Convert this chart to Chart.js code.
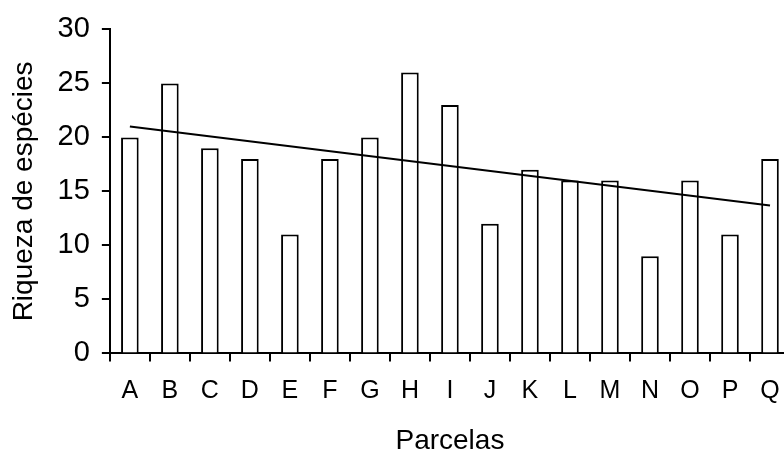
<!DOCTYPE html>
<html>
<head>
<meta charset="utf-8">
<script src="https://cdn.jsdelivr.net/npm/chart.js@4"></script>
<style>
  html, body { margin: 0; padding: 0; background: #fff; overflow: hidden; }
  #wrap { width: 784px; height: 452px; overflow: hidden; }
  #chart { display: block; }
</style>
</head>
<body>
<div id="wrap"><canvas id="chart" width="800" height="452"></canvas></div>
<script>
// Parcelas e riqueza de espécies
const parcelas = ['A', 'B', 'C', 'D', 'E', 'F', 'G', 'H', 'I', 'J', 'K', 'L', 'M', 'N', 'O', 'P', 'Q'];
const riqueza = [20, 25, 19, 18, 11, 18, 20, 26, 23, 12, 17, 16, 16, 9, 16, 11, 18];
const tendenciaInicio = 21.0;
const tendenciaFim = 13.7;
const yTicks = [0, 5, 10, 15, 20, 25, 30];

const tendencia = parcelas.map((p, i) => {
    if (i === 0) return tendenciaInicio;
    if (i === parcelas.length - 1) return tendenciaFim;
    return null;
});

const fonte = 'Liberation Sans, Arial, sans-serif';

const ctx = document.getElementById('chart').getContext('2d');
new Chart(ctx, {
    type: 'bar',
    data: {
        labels: parcelas,
        datasets: [
            {
                type: 'line',
                label: 'Tendência',
                data: tendencia,
                borderColor: '#000',
                borderWidth: 2,
                pointRadius: 0,
                spanGaps: true,
                fill: false,
                order: 1
            },
            {
                label: 'Riqueza de espécies',
                data: riqueza,
                backgroundColor: '#fff',
                borderColor: '#000',
                borderWidth: 2,
                categoryPercentage: 1,
                barPercentage: 0.44,
                order: 2
            }
        ]
    },
    options: {
        responsive: false,
        animation: false,
        layout: {
            padding: { left: 7, right: 10, top: 9, bottom: -6 }
        },
        plugins: {
            legend: { display: false },
            tooltip: { enabled: false }
        },
        scales: {
            x: {
                grid: {
                    offset: true,
                    drawOnChartArea: false,
                    drawTicks: true,
                    tickLength: 8,
                    color: '#000',
                    lineWidth: 2
                },
                border: { color: '#000', width: 2 },
                ticks: {
                    color: '#000',
                    padding: 15,
                    maxRotation: 0,
                    autoSkip: false,
                    font: { family: fonte, size: 25 }
                },
                title: {
                    display: true,
                    text: 'Parcelas',
                    color: '#000',
                    padding: { top: 3, bottom: 0 },
                    font: { family: fonte, size: 28 }
                }
            },
            y: {
                min: yTicks[0],
                max: yTicks[yTicks.length - 1],
                afterBuildTicks: (scale) => {
                    scale.ticks = yTicks.map(v => ({ value: v }));
                },
                grid: {
                    drawOnChartArea: false,
                    drawTicks: true,
                    tickLength: 8,
                    color: '#000',
                    lineWidth: 2
                },
                border: { color: '#000', width: 2 },
                ticks: {
                    color: '#000',
                    padding: 12,
                    font: { family: fonte, size: 29 }
                },
                title: {
                    display: true,
                    text: 'Riqueza de espécies',
                    color: '#000',
                    padding: { top: 0, bottom: 5 },
                    font: { family: fonte, size: 28 }
                }
            }
        }
    }
});
</script>
</body>
</html>
